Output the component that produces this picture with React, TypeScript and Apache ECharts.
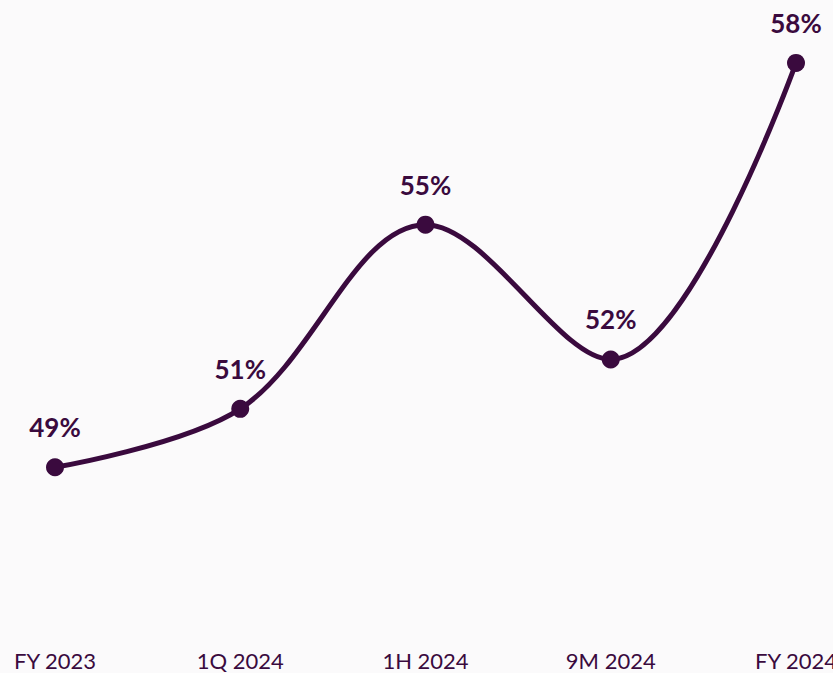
import React, { useEffect, useRef } from "react";
import * as echarts from "echarts";

const categories = ["FY 2023", "1Q 2024", "1H 2024", "9M 2024", "FY 2024"];
const values = [49.4, 50.7, 54.8, 51.8, 58.4];

const COLOR = "#3a0a3e";

export default function App() {
  const ref = useRef<HTMLDivElement>(null);
  useEffect(() => {
    if (!ref.current) return;
    const chart = echarts.init(ref.current, undefined, { renderer: "svg" });
    chart.setOption({
      animation: false,
      backgroundColor: "#fbfafb",
      grid: { left: 55, right: 37, top: 0, bottom: 35, outerBoundsMode: "none", containLabel: false },
      xAxis: {
        type: "category",
        data: categories,
        boundaryGap: false,
        axisLine: { show: false },
        axisTick: { show: false },
        axisLabel: {
          color: COLOR,
          fontFamily: "Lato",
          fontSize: 22,
          margin: 11,
        },
      },
      yAxis: {
        type: "value",
        min: 45.6,
        max: 59.8,
        show: false,
        splitLine: { show: false },
      },
      series: [
        {
          type: "line",
          data: values,
          smooth: 0.35,
          symbol: "circle",
          symbolSize: 18,
          lineStyle: { color: COLOR, width: 5 },
          itemStyle: { color: COLOR },
          label: {
            show: true,
            position: "top",
            distance: 18,
            color: COLOR,
            fontFamily: "Lato",
            fontWeight: "bold",
            fontSize: 26,
            formatter: (p: any) => Math.round(p.value) + "%",
          },
        },
      ],
    });
    return () => chart.dispose();
  }, []);
  return (
    <div
      ref={ref}
      style={{ position: "fixed", left: 0, top: 0, width: 833, height: 673 }}
    />
  );
}
